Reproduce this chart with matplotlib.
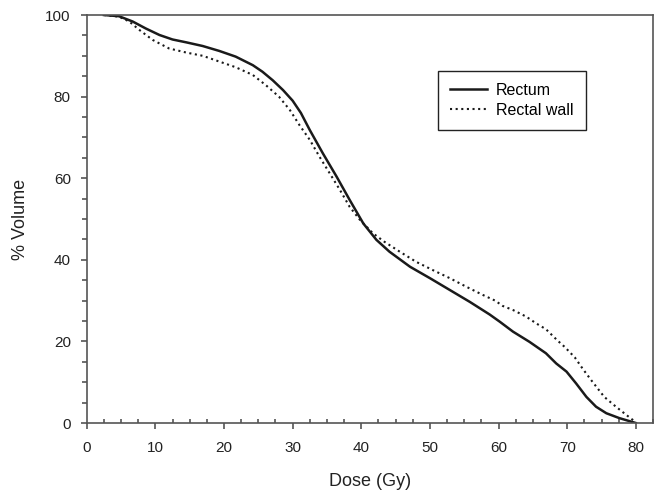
import matplotlib
matplotlib.use("Agg")
import matplotlib.pyplot as plt
from matplotlib.ticker import MultipleLocator

plt.rcParams['font.family'] = ['Liberation Sans', 'DejaVu Sans']

# Rectum (solid)
dose_rectum = [2.5, 4.7, 6.7, 8.6, 10.6, 12.5, 14.5, 16.9, 19.3, 21.7, 24.2, 25.6, 27.1,
               28.6, 30.0, 31.2, 32.5, 34.4, 36.4, 38.3, 40.3, 42.2, 44.1, 47.1, 50.0, 52.9,
               55.8, 58.7, 60.2, 62.1, 64.5, 66.9, 68.4, 69.9, 71.3, 72.8, 74.2, 75.7,
               77.6, 80.0]
vol_rectum = [100, 99.7, 98.4, 96.7, 95.1, 94.0, 93.3, 92.4, 91.2, 89.8, 87.7, 86.1, 84.0,
              81.6, 79.0, 76.0, 71.8, 66.1, 60.4, 54.7, 48.9, 44.9, 42.0, 38.3, 35.5, 32.6,
              29.7, 26.6, 24.8, 22.4, 19.9, 17.1, 14.6, 12.6, 9.7, 6.4, 4.0, 2.4,
              1.2, 0]

# Rectal wall (dotted)
dose_wall = [2.5, 4.7, 6.2, 7.7, 9.6, 12.0, 14.5, 16.9, 19.3, 21.7, 24.2, 26.1, 28.0,
             29.6, 31.0, 32.5, 33.9, 35.4, 36.9, 38.3, 39.8, 41.7, 43.3, 45.6, 48.0,
             50.4, 52.9, 55.3, 57.7, 59.5, 60.6, 62.1, 64.0, 65.5, 66.9, 68.6, 69.6,
             71.1, 72.3, 73.5, 75.4, 77.1, 78.6, 79.6, 80.0]
vol_wall = [100, 99.6, 98.4, 96.3, 93.9, 91.8, 90.8, 90.0, 88.6, 87.2, 85.3, 82.8, 80.0,
            76.7, 73.0, 69.4, 65.3, 61.2, 57.1, 53.0, 49.8, 46.5, 44.5, 42.0, 39.5,
            37.5, 35.5, 33.4, 31.4, 30.0, 28.7, 27.7, 26.1, 24.4, 23.0, 20.2, 18.7,
            16.1, 13.2, 10.5, 6.4, 4.0, 2.0, 0.7, 0]

fig = plt.figure(figsize=(6.58, 4.92), dpi=100)
ax = fig.add_axes([0.1318, 0.1402, 0.8606, 0.8293])

ax.plot(dose_rectum, vol_rectum, color='#1a1a1a', lw=1.8, label='Rectum')
ax.plot(dose_wall, vol_wall, color='#1a1a1a', lw=1.5, linestyle=(0, (1, 1.7)),
        label='Rectal wall')

ax.set_xlim(0, 82.5)
ax.set_ylim(0, 100)
ax.xaxis.set_major_locator(MultipleLocator(10))
ax.xaxis.set_minor_locator(MultipleLocator(2.5))
ax.yaxis.set_major_locator(MultipleLocator(20))
ax.yaxis.set_minor_locator(MultipleLocator(5))

for s in ax.spines.values():
    s.set_color('#555555')
    s.set_linewidth(1.2)

ax.tick_params(axis='x', which='major', direction='out', length=4, width=1.2,
               color='#555555', pad=9, labelsize=11, labelcolor='#222222')
ax.tick_params(axis='x', which='minor', direction='in', length=3, width=1.2,
               color='#555555')
ax.tick_params(axis='y', which='major', direction='out', length=4.5, width=1.2,
               color='#555555', pad=7, labelsize=11, labelcolor='#222222')
ax.tick_params(axis='y', which='minor', direction='out', length=3.5, width=1.2,
               color='#555555')

ax.set_xlabel('Dose (Gy)', fontsize=13, color='#222222', labelpad=13)
ax.set_ylabel('% Volume', fontsize=13, color='#222222', labelpad=12)

leg = ax.legend(loc='upper left', bbox_to_anchor=(0.620, 0.863), fontsize=11.5,
                frameon=True, fancybox=False, edgecolor='#222222', framealpha=1,
                handlelength=2.3, handletextpad=0.6, borderpad=0.75,
                labelspacing=0.3, borderaxespad=0)
leg.get_frame().set_linewidth(1.0)

fig.savefig('out.png', dpi=100)
